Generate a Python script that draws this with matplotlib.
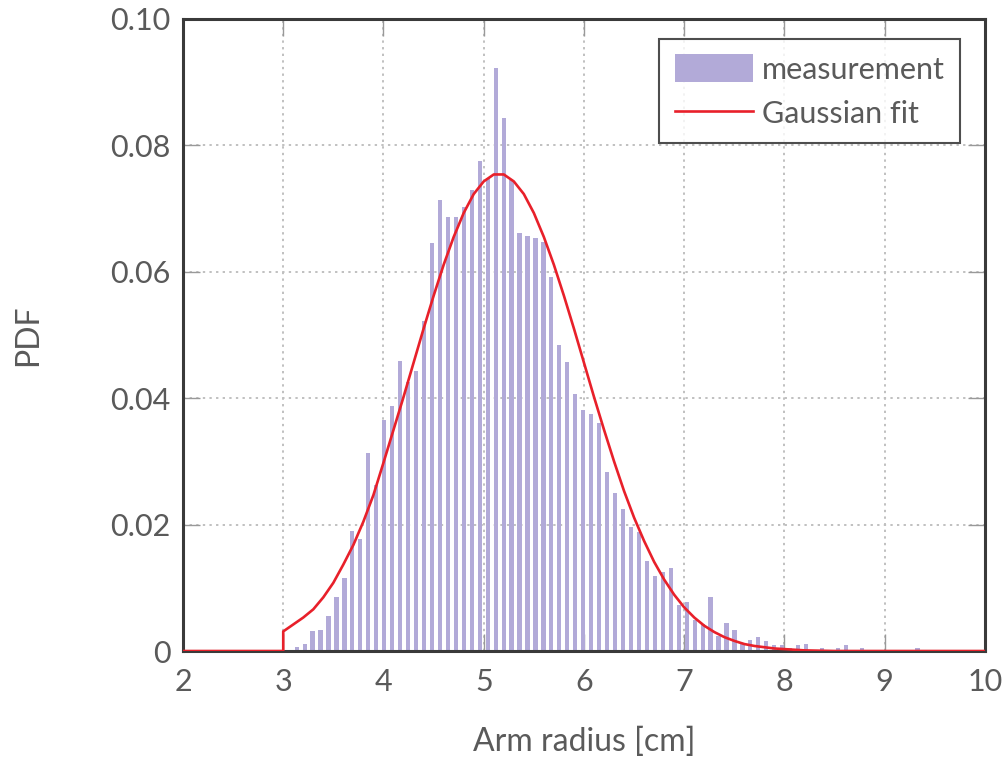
import numpy as np
import matplotlib
matplotlib.use("Agg")
from matplotlib import pyplot as plt

# histogram of measured arm radius (probability per bin)
bin_start = 3.134     # centre of first bin [cm]
bin_width = 0.0794    # bin spacing [cm]
pdf_meas = [0.0006, 0.0011, 0.0031, 0.0034, 0.0056, 0.0086, 0.0115, 0.0190,
            0.0178, 0.0313, 0.0263, 0.0366, 0.0388, 0.0459, 0.0425, 0.0443,
            0.0522, 0.0646, 0.0714, 0.0686, 0.0686, 0.0702, 0.0729, 0.0776,
            0.0749, 0.0923, 0.0843, 0.0746, 0.0662, 0.0656, 0.0653, 0.0647,
            0.0592, 0.0484, 0.0457, 0.0406, 0.0382, 0.0375, 0.0360, 0.0283,
            0.0250, 0.0225, 0.0196, 0.0189, 0.0143, 0.0118, 0.0125, 0.0131,
            0.0073, 0.0077, 0.0049, 0.0042, 0.0086, 0.0024, 0.0045, 0.0033,
            0.0012, 0.0018, 0.0022, 0.0016, 0.0009, 0.0009, 0.0005, 0.0009,
            0.0011, 0.0, 0.0005, 0.0, 0.0005, 0.0009, 0.0, 0.0005,
            0.0, 0.0, 0.0, 0.0, 0.0, 0.0, 0.0005]

# fitted curve
fit_x = [2.0, 3.0, 3.0, 3.1, 3.2, 3.3, 3.4, 3.5, 3.6, 3.7, 3.8, 3.9,
         4.0, 4.1, 4.2, 4.3, 4.4, 4.5, 4.6, 4.7, 4.8, 4.9,
         5.0, 5.1, 5.2, 5.3, 5.4, 5.5, 5.6, 5.7, 5.8, 5.9,
         6.0, 6.1, 6.2, 6.3, 6.4, 6.5, 6.6, 6.7, 6.8, 6.9,
         7.0, 7.1, 7.2, 7.3, 7.4, 7.5, 7.6, 7.7, 7.8, 7.9,
         8.0, 8.2, 8.5, 10.0]
fit_y = [0.0, 0.0, 0.0031, 0.0042, 0.0053, 0.0066, 0.0085, 0.0108, 0.0137, 0.0168, 0.0205, 0.0247,
         0.0298, 0.0350, 0.0402, 0.0456, 0.0510, 0.0562, 0.0611, 0.0655, 0.0693, 0.0723,
         0.0743, 0.0754, 0.0754, 0.0743, 0.0723, 0.0693, 0.0655, 0.0611, 0.0562, 0.0510,
         0.0456, 0.0402, 0.0350, 0.0300, 0.0253, 0.0211, 0.0174, 0.0141, 0.0113, 0.0089,
         0.0069, 0.0053, 0.0040, 0.0030, 0.0022, 0.0016, 0.0011, 0.0008, 0.0006, 0.0004,
         0.0003, 0.0001, 0.0, 0.0]

x_ticks = [2, 3, 4, 5, 6, 7, 8, 9, 10]
y_ticks = [0, 0.02, 0.04, 0.06, 0.08, 0.10]
y_labels = ["0", "0.02", "0.04", "0.06", "0.08", "0.10"]

plt.rcParams['font.family'] = ['Lato', 'DejaVu Sans']

fig = plt.figure(figsize=(10.06, 7.65), dpi=100)
ax = fig.add_axes([0.1819, 0.149, 0.7972, 0.8262])

centres = bin_start + bin_width * np.arange(len(pdf_meas))
bars = ax.bar(centres, pdf_meas, width=0.042, color='#b2aad8', linewidth=0,
              label='measurement', zorder=2)
line, = ax.plot(fit_x, fit_y, color='#e8202a', lw=1.9, label='Gaussian fit', zorder=3)

ax.set_xlim(2, 10)
ax.set_ylim(0, 0.10)
ax.set_xticks(x_ticks)
ax.set_yticks(y_ticks)
ax.set_yticklabels(y_labels)

ax.grid(True, color='#c0c0c0', linestyle=(0, (1.2, 2.2)), linewidth=1.4, zorder=0)
ax.set_axisbelow(True)

for s in ax.spines.values():
    s.set_color('#3a3a3a')
    s.set_linewidth(2.2)

ax.tick_params(axis='both', direction='in', length=12, width=1, color='#999999',
               labelsize=22, labelcolor='#5a5a5a', top=True, right=True)
ax.tick_params(axis='x', pad=12)
ax.tick_params(axis='y', pad=9)

ax.set_xlabel('Arm radius [cm]', fontsize=23, color='#5a5a5a', labelpad=22)
ax.set_ylabel('PDF', fontsize=23, color='#5a5a5a', labelpad=48)

leg = ax.legend([bars, line], ['measurement', 'Gaussian fit'],
                loc='upper right', bbox_to_anchor=(0.9688, 0.968),
                borderaxespad=0, fontsize=22, frameon=True, fancybox=False,
                handlelength=2.55, handleheight=1.0, borderpad=0.5,
                labelspacing=0.5, handletextpad=0.3)
leg.get_frame().set_edgecolor('#222222')
leg.get_frame().set_linewidth(1.5)
for t in leg.get_texts():
    t.set_color('#5a5a5a')

fig.savefig('out.png', dpi=100)
